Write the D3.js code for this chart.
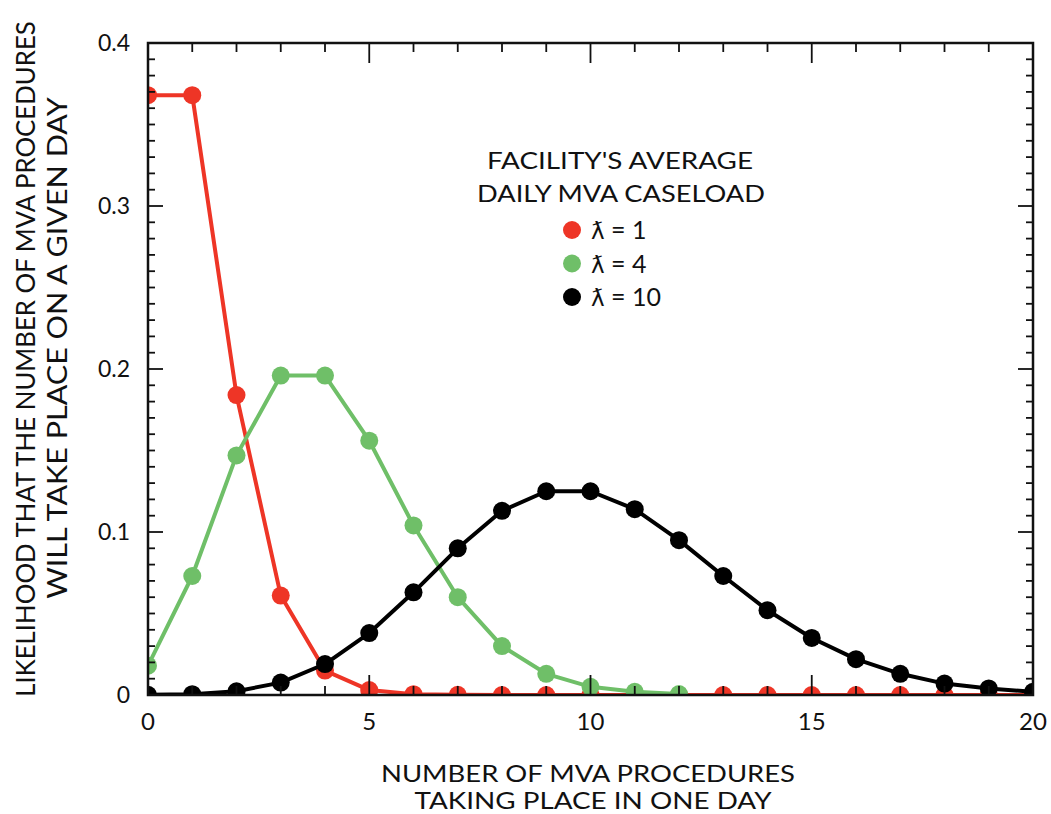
<!DOCTYPE html>
<html>
<head>
<meta charset="utf-8">
<script src="https://cdn.jsdelivr.net/npm/d3@7"></script>
<style>
  body { margin: 0; background: #fff; }
  text { font-family: Lato, "Noto Sans", sans-serif; fill: #111; }
</style>
</head>
<body>
<svg id="chart" width="1051" height="814"></svg>
<script>
// values (probability per number of procedures)
const lambda1 = [0.368, 0.368, 0.184, 0.061, 0.015, 0.003, 0.0005, 0.0001, 0, 0, 0, 0, 0, 0, 0, 0, 0, 0, 0, 0, 0];
const lambda4 = [0.018, 0.073, 0.147, 0.196, 0.196, 0.156, 0.104, 0.060, 0.030, 0.013, 0.005, 0.002, 0.0006];
const lambda10 = [0.0001, 0.0005, 0.0023, 0.0076, 0.019, 0.038, 0.063, 0.090, 0.113, 0.125, 0.125, 0.114, 0.095, 0.073, 0.052, 0.035, 0.022, 0.013, 0.007, 0.004, 0.002];
const legendValues = ["1", "4", "10"];
const xTicks = [0, 5, 10, 15, 20];
const yTicks = [0, 0.1, 0.2, 0.3, 0.4];

const RED = "#ee3526", GREEN = "#6fbf68", BLACK = "#000";

const svg = d3.select("#chart");
const pLeft = 148, pRight = 1033, pTop = 43, pBottom = 695;

const x = d3.scaleLinear().domain([0, 20]).range([pLeft, pRight]);
const y = d3.scaleLinear().domain([0, 0.4]).range([pBottom, pTop]);

// clip so the dots sitting on zero get cut by the frame
svg.append("clipPath").attr("id", "plotclip")
  .append("rect").attr("x", pLeft).attr("y", pTop).attr("width", pRight - pLeft).attr("height", pBottom - pTop);

const plot = svg.append("g").attr("clip-path", "url(#plotclip)");

const series = [
  { values: lambda1, color: RED },
  { values: lambda4, color: GREEN },
  { values: lambda10, color: BLACK }
];

const line = d3.line().x((d, i) => x(i)).y(d => y(d));

series.forEach(function(s) {
  const g = plot.append("g");
  g.append("path")
    .datum(s.values)
    .attr("d", line)
    .attr("fill", "none")
    .attr("stroke", s.color)
    .attr("stroke-width", 4)
    .attr("stroke-linejoin", "round");
  g.selectAll("circle")
    .data(s.values)
    .enter()
    .append("circle")
    .attr("cx", (d, i) => x(i))
    .attr("cy", d => y(d))
    .attr("r", 9)
    .attr("fill", s.color);
});

// ticks, all pointing inward
const tickG = svg.append("g").attr("stroke", "#111").attr("stroke-width", 1.8);
d3.range(0, 21).forEach(function(v) {
  const len = v % 5 === 0 ? 20 : 9;
  tickG.append("line").attr("x1", x(v)).attr("x2", x(v)).attr("y1", pBottom).attr("y2", pBottom - len);
  tickG.append("line").attr("x1", x(v)).attr("x2", x(v)).attr("y1", pTop).attr("y2", pTop + len);
});
d3.range(0, 41).forEach(function(k) {
  const v = k / 100;
  const len = k % 10 === 0 ? 15 : 7;
  tickG.append("line").attr("x1", pLeft).attr("x2", pLeft + len).attr("y1", y(v)).attr("y2", y(v));
  tickG.append("line").attr("x1", pRight).attr("x2", pRight - len).attr("y1", y(v)).attr("y2", y(v));
});

// frame
svg.append("rect")
  .attr("x", pLeft).attr("y", pTop)
  .attr("width", pRight - pLeft).attr("height", pBottom - pTop)
  .attr("fill", "none").attr("stroke", "#111").attr("stroke-width", 2.5);

// tick labels
svg.selectAll(".xlab")
  .data(xTicks)
  .enter()
  .append("text")
  .attr("class", "xlab")
  .attr("x", d => x(d))
  .attr("y", 730)
  .attr("text-anchor", "middle")
  .attr("font-size", 24)
  .text(d => d);

svg.selectAll(".ylab")
  .data(yTicks)
  .enter()
  .append("text")
  .attr("class", "ylab")
  .attr("x", 130)
  .attr("y", d => y(d) + 8)
  .attr("text-anchor", "end")
  .attr("font-size", 23)
  .text(d => d === 0 ? "0" : d3.format(".1f")(d));

// axis titles
svg.append("text").attr("x", 588).attr("y", 782).attr("text-anchor", "middle")
  .attr("font-size", 24).attr("textLength", 414).attr("lengthAdjust", "spacingAndGlyphs")
  .text("NUMBER OF MVA PROCEDURES");
svg.append("text").attr("x", 593).attr("y", 809).attr("text-anchor", "middle")
  .attr("font-size", 24).attr("textLength", 357).attr("lengthAdjust", "spacingAndGlyphs")
  .text("TAKING PLACE IN ONE DAY");

// the y title is narrower than the font, so squeeze it with a scale
function yTitle(txt, bx, cy, width) {
  const t = svg.append("text")
    .attr("text-anchor", "middle")
    .attr("font-size", 27)
    .text(txt);
  const natural = t.node().getComputedTextLength();
  t.attr("transform", "translate(" + bx + "," + cy + ") rotate(-90) scale(" + (width / natural) + ",1)");
}
yTitle("LIKELIHOOD THAT THE NUMBER OF MVA PROCEDURES", 35, 359, 676);
yTitle("WILL TAKE PLACE ON A GIVEN DAY", 67, 348, 502);

// legend
const legend = svg.append("g");
legend.append("text").attr("x", 620).attr("y", 169).attr("text-anchor", "middle")
  .attr("font-size", 23).attr("textLength", 266).attr("lengthAdjust", "spacingAndGlyphs")
  .text("FACILITY'S AVERAGE");
legend.append("text").attr("x", 621).attr("y", 202).attr("text-anchor", "middle")
  .attr("font-size", 23).attr("textLength", 288).attr("lengthAdjust", "spacingAndGlyphs")
  .text("DAILY MVA CASELOAD");

const items = legend.selectAll(".item")
  .data(series)
  .enter()
  .append("g")
  .attr("class", "item")
  .attr("transform", (d, i) => "translate(572," + (230 + i * 33.5) + ")");
items.append("circle").attr("r", 9).attr("fill", d => d.color);
const itemText = items.append("text").attr("x", 19).attr("y", 9).attr("font-size", 25);
itemText.append("tspan").style("font-family", "'DejaVu Sans', sans-serif").attr("font-size", 23).text("ƛ");
itemText.append("tspan").text((d, i) => " = " + legendValues[i]);
</script>
</body>
</html>
